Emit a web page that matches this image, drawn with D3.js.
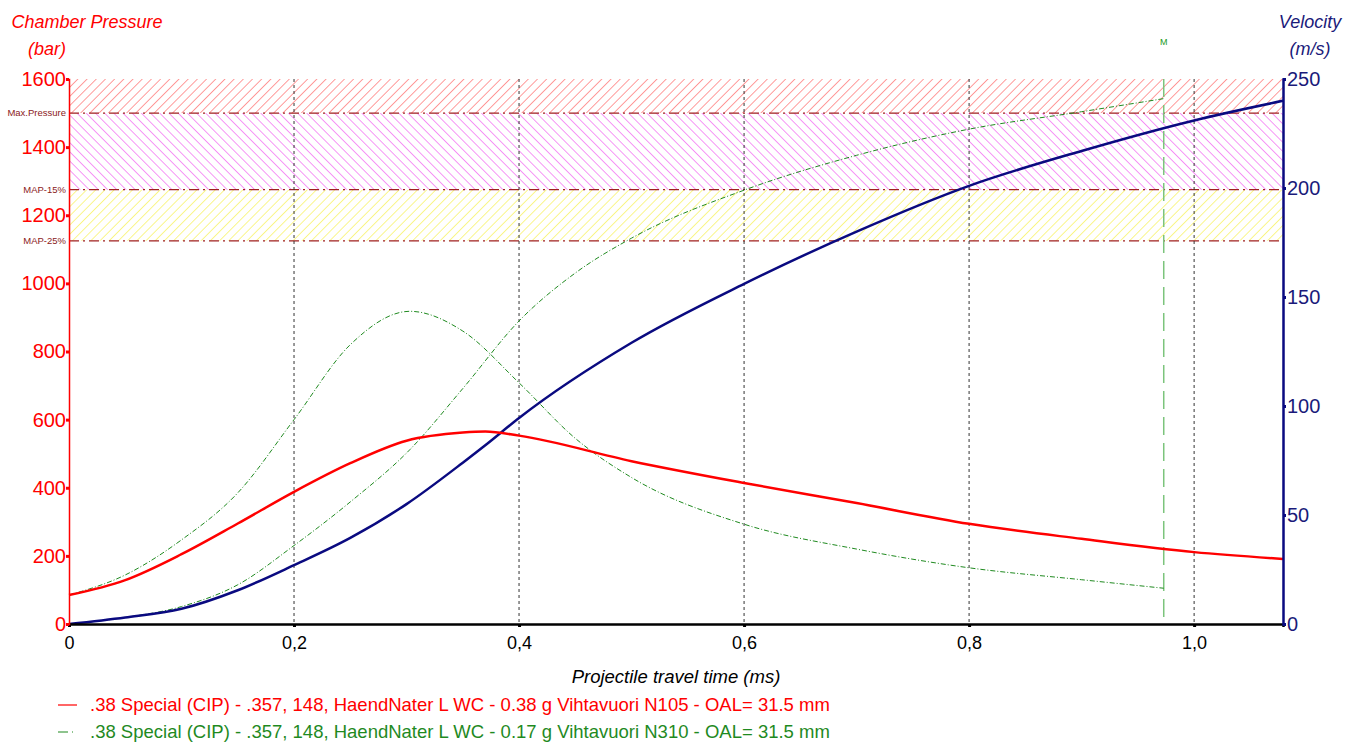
<!DOCTYPE html>
<html>
<head>
<meta charset="utf-8">
<script src="https://cdn.jsdelivr.net/npm/d3@7"></script>
<style>
  body { margin: 0; background: #fff; }
  text { font-family: "Liberation Sans", Arial, sans-serif; }
</style>
</head>
<body>
<svg id="chart"></svg>
<script>
// travel time (ms) for each load
const timeN105 = [0, 0.05, 0.1, 0.15, 0.2, 0.25, 0.3, 0.35, 0.37, 0.4, 0.5, 0.6, 0.7, 0.8, 0.9, 1.0, 1.079];
const pressureN105 = [85, 129, 205, 295, 388, 472, 538, 562, 565, 553, 478, 414, 355, 294, 250, 211, 191];
const velocityN105 = [0, 3, 7, 15.5, 27, 39.5, 55, 74, 82, 94.5, 129, 156, 180, 201, 217, 231, 240];

const timeN310 = [0, 0.05, 0.1, 0.15, 0.2, 0.25, 0.303, 0.35, 0.4, 0.45, 0.5, 0.6, 0.7, 0.8, 0.9, 0.973];
const pressureN310 = [85, 144, 247, 385, 600, 820, 918, 860, 708, 545, 430, 293, 220, 165, 130, 105];
const velocityN310 = [0, 3, 8, 18, 36, 56, 80, 108, 139, 161, 177, 199, 215, 227, 235, 241];

const muzzleTime = 0.973;
const maxPressure = 1500;
const pressureLimits = [
  { label: "Max.Pressure", value: 1500 },
  { label: "MAP-15%", value: 1275 },
  { label: "MAP-25%", value: 1125 },
];
const pressureTicks = [0, 200, 400, 600, 800, 1000, 1200, 1400, 1600];
const velocityTicks = [0, 50, 100, 150, 200, 250];
const timeTicks = [0, 0.2, 0.4, 0.6, 0.8, 1.0];
const legendLabels = [
  ".38 Special (CIP) - .357, 148, HaendNater L WC - 0.38 g Vihtavuori N105 - OAL= 31.5 mm",
  ".38 Special (CIP) - .357, 148, HaendNater L WC - 0.17 g Vihtavuori N310 - OAL= 31.5 mm",
];

const width = 1345, height = 744;
const margin = { top: 79, right: 62, bottom: 120, left: 69 };

const svg = d3.select("#chart").attr("width", width).attr("height", height);

const x = d3.scaleLinear().domain([0, 1.079]).range([margin.left, width - margin.right]);
const yP = d3.scaleLinear().domain([0, 1600]).range([height - margin.bottom, margin.top]);
const yV = d3.scaleLinear().domain([0, 250]).range([height - margin.bottom, margin.top]);

// hatch patterns
const defs = svg.append("defs");
function hatch(id, color, angle) {
  const p = defs.append("pattern")
    .attr("id", id)
    .attr("patternUnits", "userSpaceOnUse")
    .attr("width", 6.5)
    .attr("height", 6.5)
    .attr("patternTransform", "rotate(" + angle + ")");
  p.append("line")
    .attr("x1", 0).attr("y1", 0).attr("x2", 0).attr("y2", 6.5)
    .attr("stroke", color).attr("stroke-width", 1.2);
}
hatch("hatchRed", "#ff5a5a", 45);
hatch("hatchMag", "#f050f0", -45);
hatch("hatchYel", "#f6f040", 45);

const bands = [
  { from: maxPressure, to: 1600, fill: "url(#hatchRed)" },
  { from: 1275, to: maxPressure, fill: "url(#hatchMag)" },
  { from: 1125, to: 1275, fill: "url(#hatchYel)" },
];
svg.append("g")
  .selectAll("rect")
  .data(bands)
  .join("rect")
  .attr("x", x(0))
  .attr("width", x(1.079) - x(0))
  .attr("y", (d) => yP(d.to))
  .attr("height", (d) => yP(d.from) - yP(d.to))
  .attr("fill", (d) => d.fill);

// limit lines
const limitG = svg.append("g");
limitG.selectAll("line")
  .data(pressureLimits)
  .join("line")
  .attr("x1", x(0))
  .attr("x2", x(1.079))
  .attr("y1", (d) => yP(d.value))
  .attr("y2", (d) => yP(d.value))
  .attr("stroke", "#a02020")
  .attr("stroke-width", 1.2)
  .attr("stroke-dasharray", "10,4,2,4");
limitG.selectAll("text")
  .data(pressureLimits)
  .join("text")
  .attr("x", x(0) - 3)
  .attr("y", (d) => yP(d.value) + 3)
  .attr("text-anchor", "end")
  .style("font-size", "9.5px")
  .attr("fill", "#8b1a1a")
  .text((d) => d.label);

// vertical grid
svg.append("g")
  .selectAll("line")
  .data(timeTicks.slice(1))
  .join("line")
  .attr("x1", (d) => x(d))
  .attr("x2", (d) => x(d))
  .attr("y1", yP(1600))
  .attr("y2", yP(0))
  .attr("stroke", "#333")
  .attr("stroke-width", 1)
  .attr("stroke-dasharray", "3,3");

// muzzle marker
svg.append("line")
  .attr("x1", x(muzzleTime))
  .attr("x2", x(muzzleTime))
  .attr("y1", yP(1600))
  .attr("y2", yP(0))
  .attr("stroke", "#7cc47c")
  .attr("stroke-width", 1.5)
  .attr("stroke-dasharray", "18,8");
svg.append("text")
  .attr("x", x(muzzleTime))
  .attr("y", 45)
  .attr("text-anchor", "middle")
  .style("font-size", "9px")
  .attr("fill", "#1a9a1a")
  .text("M");

// lines
const lineP = (t) => d3.line()
  .x((d, i) => x(t[i]))
  .y((d) => yP(d))
  .curve(d3.curveMonotoneX);
const lineV = (t) => d3.line()
  .x((d, i) => x(t[i]))
  .y((d) => yV(d))
  .curve(d3.curveMonotoneX);

svg.append("path")
  .attr("d", lineP(timeN310)(pressureN310))
  .attr("fill", "none")
  .attr("stroke", "#1f8a1f")
  .attr("stroke-width", 1)
  .attr("stroke-dasharray", "5,2,1,2");
svg.append("path")
  .attr("d", lineV(timeN310)(velocityN310))
  .attr("fill", "none")
  .attr("stroke", "#1f8a1f")
  .attr("stroke-width", 1)
  .attr("stroke-dasharray", "5,2,1,2");
svg.append("path")
  .attr("d", lineV(timeN105)(velocityN105))
  .attr("fill", "none")
  .attr("stroke", "#0a0a80")
  .attr("stroke-width", 2.5);
svg.append("path")
  .attr("d", lineP(timeN105)(pressureN105))
  .attr("fill", "none")
  .attr("stroke", "#ff0000")
  .attr("stroke-width", 2.5);

// axes
const fmtX = (d) => d === 0 ? "0" : d3.format(".1f")(d).replace(".", ",");
const xAxis = svg.append("g")
  .attr("transform", "translate(0," + yP(0) + ")")
  .call(d3.axisBottom(x).tickValues(timeTicks).tickSize(3).tickFormat(fmtX));
xAxis.select(".domain").attr("stroke", "#000").attr("stroke-width", 2.5);
xAxis.selectAll("line").attr("stroke", "#000").attr("stroke-width", 3);
xAxis.selectAll("text")
  .attr("y", 12)
  .style("font-size", "18px")
  .attr("fill", "#000");

const leftAxis = svg.append("g")
  .attr("transform", "translate(" + x(0) + ",0)")
  .call(d3.axisLeft(yP).tickValues(pressureTicks).tickSize(3).tickFormat(d3.format("d")));
leftAxis.select(".domain").attr("stroke", "#ff0000").attr("stroke-width", 1.5);
leftAxis.selectAll("line").attr("stroke", "#ff0000").attr("stroke-width", 3);
leftAxis.selectAll("text")
  .attr("x", -3)
  .style("font-size", "20px")
  .attr("fill", "#ff0000");

const rightAxis = svg.append("g")
  .attr("transform", "translate(" + x(1.079) + ",0)")
  .call(d3.axisRight(yV).tickValues(velocityTicks).tickSize(3).tickFormat(d3.format("d")));
rightAxis.select(".domain").attr("stroke", "#0a0a80").attr("stroke-width", 2.5);
rightAxis.selectAll("line").attr("stroke", "#0a0a80").attr("stroke-width", 3);
rightAxis.selectAll("text")
  .attr("x", 4)
  .style("font-size", "20px")
  .attr("fill", "#1a1a7a");

// axis titles
svg.append("text")
  .attr("x", 87).attr("y", 28)
  .attr("text-anchor", "middle")
  .style("font-size", "18px").style("font-style", "italic")
  .attr("fill", "#ff0000")
  .text("Chamber Pressure");
svg.append("text")
  .attr("x", 47).attr("y", 55)
  .attr("text-anchor", "middle")
  .style("font-size", "18px").style("font-style", "italic")
  .attr("fill", "#ff0000")
  .text("(bar)");
svg.append("text")
  .attr("x", 1310).attr("y", 28)
  .attr("text-anchor", "middle")
  .style("font-size", "18px").style("font-style", "italic")
  .attr("fill", "#1a1a7a")
  .text("Velocity");
svg.append("text")
  .attr("x", 1310).attr("y", 55)
  .attr("text-anchor", "middle")
  .style("font-size", "18px").style("font-style", "italic")
  .attr("fill", "#1a1a7a")
  .text("(m/s)");
svg.append("text")
  .attr("x", 676).attr("y", 683)
  .attr("text-anchor", "middle")
  .style("font-size", "18.5px").style("font-style", "italic")
  .attr("fill", "#000")
  .text("Projectile travel time (ms)");

// legend
const legendColors = ["#ff0000", "#1f8a1f"];
const legend = svg.append("g").attr("transform", "translate(58,705)");
legend.selectAll("line")
  .data(legendLabels)
  .join("line")
  .attr("x1", 0).attr("x2", 19)
  .attr("y1", (d, i) => i * 27)
  .attr("y2", (d, i) => i * 27)
  .attr("stroke", (d, i) => legendColors[i])
  .attr("stroke-width", 1.2)
  .attr("stroke-dasharray", (d, i) => (i === 1 ? "10,4,1,4" : null));
legend.selectAll("text")
  .data(legendLabels)
  .join("text")
  .attr("x", 32)
  .attr("y", (d, i) => i * 27 + 6)
  .style("font-size", "18.5px")
  .attr("fill", (d, i) => legendColors[i])
  .text((d) => d);
</script>
</body>
</html>
